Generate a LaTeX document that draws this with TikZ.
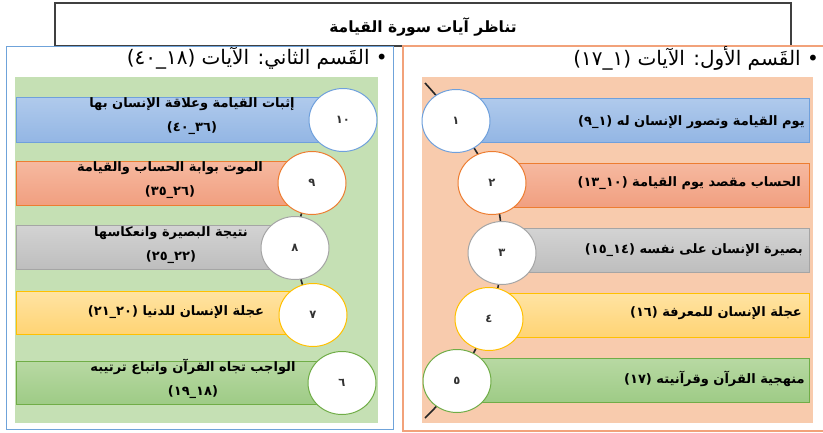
\documentclass[tikz,border=0pt]{standalone}
\usepackage{fontspec}
\TeXXeTstate=1
\newfontfamily\arabicfont[Script=Arabic]{DejaVu Sans}
\usetikzlibrary{shapes.geometric}

\definecolor{framegray}{HTML}{404040}
\definecolor{frameblue}{HTML}{6FA3DA}
\definecolor{frameorange}{HTML}{F2A27A}
\definecolor{leafgreen}{HTML}{C5E0B4}
\definecolor{peach}{HTML}{F8CBAD}
\definecolor{blueT}{HTML}{B0CAEC}\definecolor{blueB}{HTML}{93B6E4}\definecolor{blueL}{HTML}{6FA0DC}
\definecolor{redT}{HTML}{F6B9A0}\definecolor{redB}{HTML}{F19F80}\definecolor{redL}{HTML}{ED7D31}
\definecolor{grayT}{HTML}{D3D3D3}\definecolor{grayB}{HTML}{BEBEBE}\definecolor{grayL}{HTML}{A5A5A5}
\definecolor{yelT}{HTML}{FFE3A3}\definecolor{yelB}{HTML}{FFD474}\definecolor{yelL}{HTML}{FFC000}
\definecolor{grnT}{HTML}{B8D9A3}\definecolor{grnB}{HTML}{9ECB86}\definecolor{grnL}{HTML}{70AD47}

\tikzset{
  band/.style={rectangle, draw=#1L, line width=0.8pt, top color=#1T, bottom color=#1B,
               inner sep=0pt},
  disc/.style={ellipse, draw=#1L, line width=1pt, fill=white, minimum width=68pt,
               minimum height=63pt, inner sep=0pt,
               font=\arabicfont\bfseries\fontsize{11.5}{12}\selectfont, text=black!80},
  bandtext/.style={font=\arabicfont\bfseries\fontsize{13}{24}\selectfont, align=center,
               inner sep=0pt, text=black},
  headtext/.style={font=\arabicfont\fontsize{20}{22}\selectfont, inner sep=0pt, anchor=east},
  spine/.style={draw=black!85, line width=1.6pt},
}

\begin{document}
\begin{tikzpicture}[x=1pt,y=-1pt]
\useasboundingbox (0,0) rectangle (823,432);
\fill[white] (0,0) rectangle (823,432);

% title frame and the two section frames
\draw[framegray, line width=1.1pt] (55,3) rectangle (791,46);
\node[font=\arabicfont\bfseries\fontsize{15.5}{17}\selectfont, inner sep=0pt] (title) at (423,27)
  {\beginR تناظر آيات سورة القيامة\endR};
\draw[frameblue, line width=1pt, fill=white] (6,46) rectangle (393,429);
\draw[frameorange, line width=1.2pt, fill=white] (403,46) rectangle (840,431);
\fill[leafgreen] (15,77) rectangle (378,423);
\fill[peach] (422,77) rectangle (813,423);

% section headings
\node[headtext] (headL) at (388,58) {\beginR • القَسم الثاني: الآيات (١٨\_٤٠)\endR};
\node[headtext] (headR) at (819,58) {\beginR • القَسم الأول: الآيات (١\_١٧)\endR};

% second section: bands
\node[band=blue, minimum width=324pt, minimum height=45pt] (b10) at (178,119.5) {};
\node[band=red,  minimum width=294pt, minimum height=44pt] (b9)  at (163,183) {};
\node[band=gray, minimum width=279pt, minimum height=44pt] (b8)  at (155.5,247) {};
\node[band=yel,  minimum width=294pt, minimum height=43pt] (b7)  at (163,312.5) {};
\node[band=grn,  minimum width=324pt, minimum height=43pt] (b6)  at (178,382.5) {};

% first section: bands
\node[band=blue, minimum width=353pt, minimum height=44pt] (b1) at (632.5,120) {};
\node[band=red,  minimum width=317pt, minimum height=44pt] (b2) at (650.5,185) {};
\node[band=gray, minimum width=307pt, minimum height=44pt] (b3) at (655.5,250) {};
\node[band=yel,  minimum width=320pt, minimum height=44pt] (b4) at (649,315) {};
\node[band=grn,  minimum width=352pt, minimum height=44pt] (b5) at (633,380) {};

% circle positions
\coordinate (p10) at (343,120); \coordinate (p9) at (312,183); \coordinate (p8) at (295,248);
\coordinate (p7) at (313,315);  \coordinate (p6) at (342,383);
\coordinate (p1) at (456,121);  \coordinate (p2) at (492,183); \coordinate (p3) at (502,253);
\coordinate (p4) at (489,319);  \coordinate (p5) at (457,381);
\coordinate (rtop) at (425,83); \coordinate (rbot) at (425,418);

% curved spines behind the circles
\draw[spine] plot[smooth, tension=0.6] coordinates {(rtop) (p1) (p2) (p3) (p4) (p5) (rbot)};
\draw[spine] plot[smooth, tension=0.6] coordinates {(p9) (p8) (p7)};

% numbered circles
\node[disc=blue] (c10) at (p10) {١٠};
\node[disc=red]  (c9)  at (p9)  {٩};
\node[disc=gray] (c8)  at (p8)  {٨};
\node[disc=yel]  (c7)  at (p7)  {٧};
\node[disc=grn]  (c6)  at (p6)  {٦};
\node[disc=blue] (c1) at (p1) {١};
\node[disc=red]  (c2) at (p2) {٢};
\node[disc=gray] (c3) at (p3) {٣};
\node[disc=yel]  (c4) at (p4) {٤};
\node[disc=grn]  (c5) at (p5) {٥};

% band labels, second section
\node[bandtext] (t10) at (192,116) {\beginR إثبات القيامة وعلاقة الإنسان بها\endR\\\beginR (٣٦\_٤٠)\endR};
\node[bandtext] (t9)  at (170,180) {\beginR الموت بوابة الحساب والقيامة\endR\\\beginR (٢٦\_٣٥)\endR};
\node[bandtext] (t8)  at (171,245) {\beginR نتيجة البصيرة وانعكاسها\endR\\\beginR (٢٢\_٢٥)\endR};
\node[bandtext] (t7)  at (176,312) {\beginR عجلة الإنسان للدنيا (٢٠\_٢١)\endR};
\node[bandtext] (t6)  at (193,379) {\beginR الواجب تجاه القرآن واتباع ترتيبه\endR\\\beginR (١٨\_١٩)\endR};

% band labels, first section
\node[bandtext, anchor=east] (t1) at (805,122) {\beginR يوم القيامة وتصور الإنسان له (١\_٩)\endR};
\node[bandtext, anchor=east] (t2) at (801,183) {\beginR الحساب مقصد يوم القيامة (١٠\_١٣)\endR};
\node[bandtext, anchor=east] (t3) at (803,250) {\beginR بصيرة الإنسان على نفسه (١٤\_١٥)\endR};
\node[bandtext, anchor=east] (t4) at (802,313) {\beginR عجلة الإنسان للمعرفة (١٦)\endR};
\node[bandtext, anchor=east] (t5) at (805,379) {\beginR منهجية القرآن وقرآنيته (١٧)\endR};
\end{tikzpicture}
\end{document}
